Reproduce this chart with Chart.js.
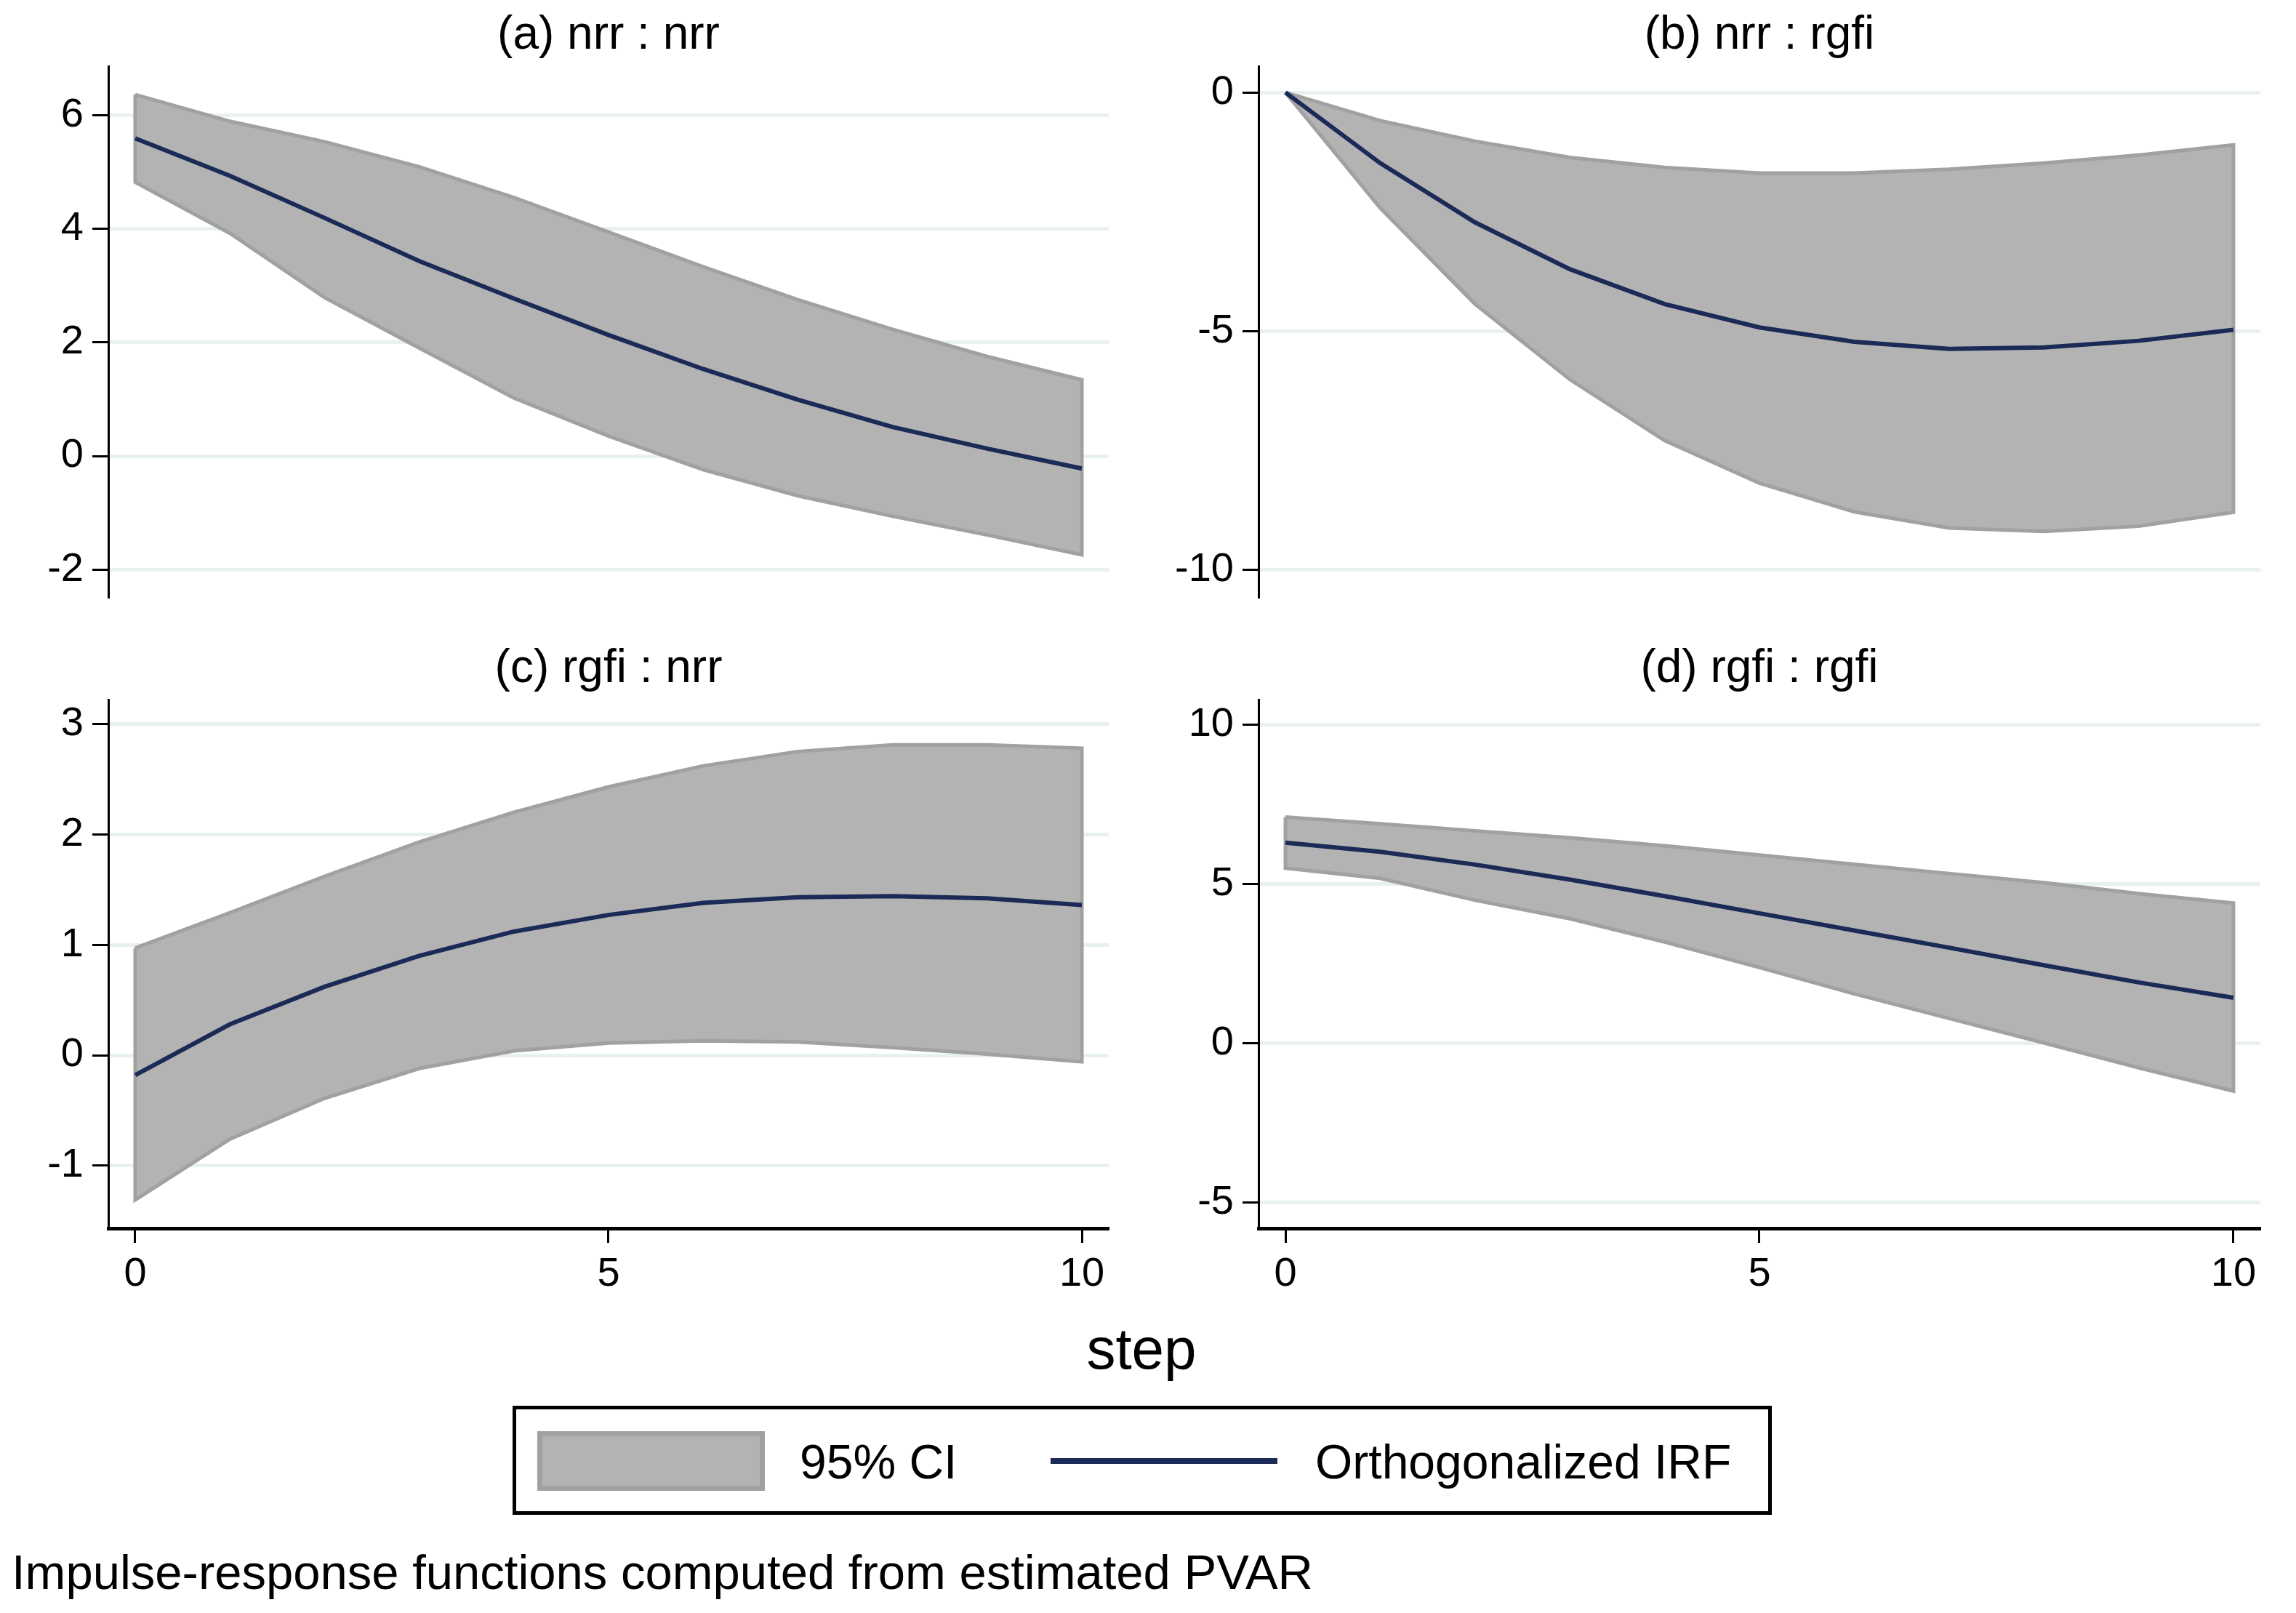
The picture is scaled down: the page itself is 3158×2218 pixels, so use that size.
<!DOCTYPE html>
<html>
<head>
<meta charset="utf-8">
<script src="https://cdn.jsdelivr.net/npm/chart.js@4/dist/chart.umd.min.js"></script>
<style>
  html, body { margin:0; padding:0; background:#fff; }
  body { width:3158px; height:2218px; position:relative; overflow:hidden; font-family:"Liberation Sans", Arial, sans-serif; color:#000; }
  .panel { position:absolute; }
  .txt { position:absolute; white-space:nowrap; line-height:1; }
  #legendBox { position:absolute; left:705px; top:1933px; width:1732px; height:150px; border:5px solid #000; box-sizing:border-box; }
  #swatch { position:absolute; left:739px; top:1968px; width:313px; height:82px; background:#b3b3b3; border:7px solid #a1a1a1; box-sizing:border-box; }
  #legLine { position:absolute; left:1445px; top:2005px; width:312px; height:8px; background:#1b2a56; }
</style>
</head>
<body>
<div class="panel" id="pa" style="left:0px;top:0px;"><canvas id="ca" width="1545" height="870"></canvas></div>
<div class="panel" id="pb" style="left:1582px;top:0px;"><canvas id="cb" width="1547" height="870"></canvas></div>
<div class="panel" id="pc" style="left:0px;top:880px;"><canvas id="cc" width="1545" height="919"></canvas></div>
<div class="panel" id="pd" style="left:1582px;top:880px;"><canvas id="cd" width="1547" height="919"></canvas></div>

<div class="txt" id="stepLbl" style="font-size:80px;top:1815px;left:1570px;transform:translateX(-50%);">step</div>
<div id="legendBox"></div>
<div id="swatch"></div>
<div class="txt" style="font-size:66px;left:1100px;top:1977px;">95% CI</div>
<div id="legLine"></div>
<div class="txt" style="font-size:66px;left:1809px;top:1977px;">Orthogonalized IRF</div>
<div class="txt" style="font-size:67px;left:16px;top:2128px;">Impulse-response functions computed from estimated PVAR</div>

<script>
// ---- data ----
const steps = [0,1,2,3,4,5,6,7,8,9,10];

const titleA = "(a) nrr : nrr";
const irfA = [5.59,4.93,4.19,3.43,2.77,2.13,1.53,0.99,0.51,0.13,-0.22];
const hiA  = [6.36,5.89,5.53,5.09,4.55,3.94,3.33,2.75,2.23,1.75,1.34];
const loA  = [4.82,3.92,2.79,1.90,1.02,0.35,-0.24,-0.70,-1.06,-1.39,-1.74];
const yTicksA = [-2,0,2,4,6];

const titleB = "(b) nrr : rgfi";
const irfB = [0,-1.48,-2.72,-3.70,-4.43,-4.92,-5.22,-5.37,-5.34,-5.20,-4.97];
const hiB  = [0,-0.59,-1.02,-1.36,-1.57,-1.69,-1.69,-1.61,-1.48,-1.31,-1.10];
const loB  = [0,-2.42,-4.43,-6.01,-7.29,-8.18,-8.78,-9.12,-9.19,-9.08,-8.79];
const yTicksB = [-10,-5,0];

const titleC = "(c) rgfi : nrr";
const irfC = [-0.18,0.28,0.62,0.90,1.12,1.27,1.38,1.43,1.44,1.42,1.36];
const hiC  = [0.97,1.29,1.62,1.93,2.20,2.43,2.62,2.75,2.81,2.81,2.78];
const loC  = [-1.31,-0.76,-0.39,-0.12,0.04,0.11,0.13,0.12,0.07,0.01,-0.06];
const yTicksC = [-1,0,1,2,3];

const titleD = "(d) rgfi : rgfi";
const irfD = [6.29,6.00,5.60,5.13,4.61,4.07,3.53,2.99,2.44,1.90,1.42];
const hiD  = [7.09,6.88,6.66,6.44,6.19,5.90,5.61,5.32,5.03,4.69,4.39];
const loD  = [5.49,5.17,4.48,3.90,3.17,2.37,1.54,0.77,0.00,-0.78,-1.51];
const yTicksD = [-5,0,5,10];

const xTicks = [0,5,10];

// ---- styling ----
const FONT = "'Liberation Sans', Arial, sans-serif";
const BAND_FILL = '#b3b3b3';
const BAND_EDGE = '#a1a1a1';
const IRF_COLOR = '#1b2a56';
const GRID_COLOR = '#e8f0f2';

function bandPolygon(lo, hi) {
  const pts = hi.map((v, i) => ({x: steps[i], y: v}));
  for (let i = lo.length - 1; i >= 0; i--) pts.push({x: steps[i], y: lo[i]});
  pts.push({x: steps[0], y: hi[0]});
  return pts;
}

function makePanel(canvasId, title, irf, lo, hi, yTicks, yMin, yMax, showX) {
  const titlePlugin = {
    id: 'panelTitle',
    afterDraw(chart) {
      const ctx = chart.ctx;
      const a = chart.chartArea;
      ctx.save();
      ctx.fillStyle = '#000';
      ctx.font = '64px ' + FONT;
      ctx.textAlign = 'center';
      ctx.textBaseline = 'middle';
      ctx.fillText(title, (a.left + a.right) / 2, a.top - 42);
      ctx.restore();
    }
  };
  return new Chart(document.getElementById(canvasId), {
    type: 'line',
    data: {
      datasets: [
        {
          label: 'Orthogonalized IRF',
          data: irf.map((v, i) => ({x: steps[i], y: v})),
          borderColor: IRF_COLOR,
          borderWidth: 6,
          pointRadius: 0,
          fill: false,
          tension: 0
        },
        {
          label: '95% CI',
          data: bandPolygon(lo, hi),
          borderColor: BAND_EDGE,
          backgroundColor: BAND_FILL,
          borderWidth: 5,
          pointRadius: 0,
          fill: 'shape',
          tension: 0
        }
      ]
    },
    options: {
      responsive: false,
      animation: false,
      devicePixelRatio: 1,
      layout: { padding: { left: 0, right: 20, top: showX ? 82 : 91, bottom: showX ? 0 : 50 } },
      plugins: { legend: { display: false }, tooltip: { enabled: false }, title: { display: false } },
      scales: {
        x: {
          type: 'linear',
          min: -0.284,
          max: 10.284,
          display: showX,
          afterBuildTicks: s => { s.ticks = xTicks.map(v => ({value: v})); },
          afterFit: s => { s.height = showX ? 110 : 0; },
          border: { display: true, color: '#000', width: 5 },
          grid: { drawOnChartArea: false, drawTicks: true, tickLength: 20, tickColor: '#000', tickWidth: 3 },
          ticks: { color: '#000', font: { family: FONT, size: 56 }, padding: 10, maxRotation: 0 }
        },
        y: {
          type: 'linear',
          min: yMin,
          max: yMax,
          afterBuildTicks: s => { s.ticks = yTicks.map(v => ({value: v})); },
          afterFit: s => { s.width = 149; },
          border: { display: true, color: '#000', width: 3 },
          grid: { color: GRID_COLOR, lineWidth: 5, drawTicks: true, tickLength: 22, tickColor: '#000', tickWidth: 3 },
          ticks: { color: '#000', font: { family: FONT, size: 56 }, padding: 12 }
        }
      }
    },
    plugins: [titlePlugin]
  });
}

makePanel('ca', titleA, irfA, loA, hiA, yTicksA, -2.47, 6.86, false);
makePanel('cb', titleB, irfB, loB, hiB, yTicksB, -10.55, 0.55, false);
makePanel('cc', titleC, irfC, loC, hiC, yTicksC, -1.567, 3.22, true);
makePanel('cd', titleD, irfD, loD, hiD, yTicksD, -5.82, 10.78, true);
</script>
</body>
</html>
